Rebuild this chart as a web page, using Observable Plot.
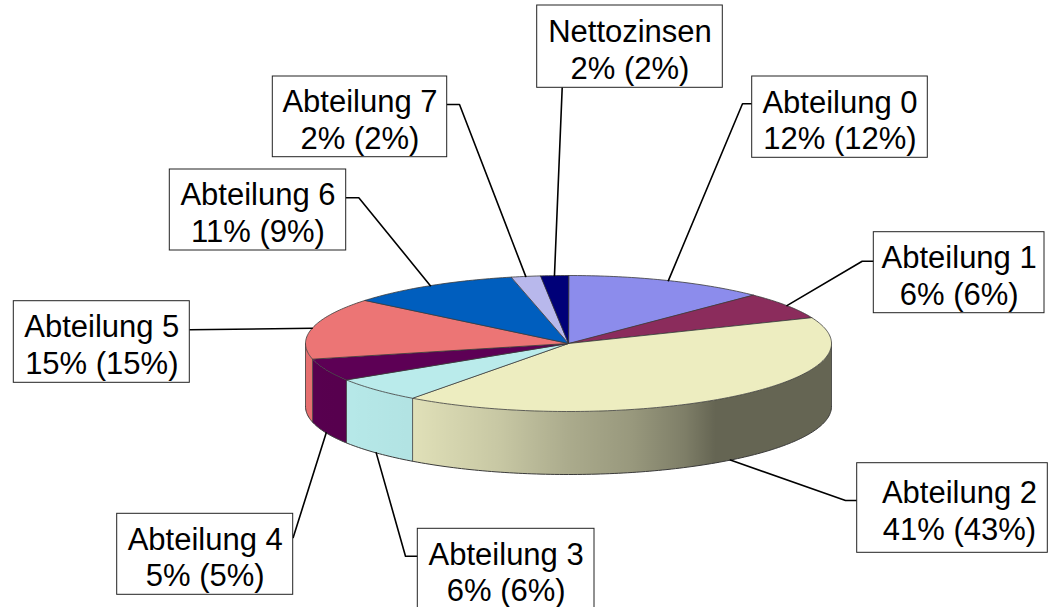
<!DOCTYPE html>
<html><head><meta charset="utf-8">
<script src="https://cdn.jsdelivr.net/npm/d3@7"></script>
<script src="https://cdn.jsdelivr.net/npm/@observablehq/plot@0.6"></script>
<style>html,body{margin:0;padding:0;background:#fff;}</style>
</head><body><div id="chart"></div>
<script>
// ---- data ----
const categories = ["Abteilung 0","Abteilung 1","Abteilung 2","Abteilung 3","Abteilung 4","Abteilung 5","Abteilung 6","Abteilung 7","Nettozinsen"];
const shares = [12.4, 6.4, 41.3, 5.9, 5.3, 14.6, 10.6, 1.8, 1.7];
const shareLabels = ["12%","6%","41%","6%","5%","15%","11%","2%","2%"];
const priorLabels = ["12%","6%","43%","6%","5%","15%","9%","2%","2%"];

// ---- styles ----
const topColors  = ["#8c8cec","#8b2c5c","#ededc0","#baebeb","#5d0055","#ec7575","#005ebe","#b8b8ec","#000078"];
const sideColors = ["#8080dc","#7e2854","#eaeac0","#b9ecec","#58004f","#e66f6f","#0058b4","#aeaee4","#000070"];

// ---- layout (pixels) ----
const CX = 568, CY = 343, RX = 263, RY = 68, DEPTH = 63;
const boxes = [ // x1,y1,x2,y2
  [751.7, 76, 927.3, 157.3],
  [873.3, 231.7, 1044, 312.7],
  [856.7, 462.7, 1047.3, 552.3],
  [417.3, 528.3, 594, 609.5],
  [116.7, 513.3, 292.7, 594.3],
  [13.3, 300.7, 189.3, 382.3],
  [169.3, 169, 345.7, 250],
  [272.3, 76, 446.7, 156.7],
  [536.7, 5, 722.3, 87.3]
];
const textShift = [0, 0, 7, 0, 0, 0, 0, 0, 0];
const attach = [ // box point x,y ; elbow x,y
  [751.7, 103.3, 742, 103.3],
  [873.3, 260.7, 861.7, 260.7],
  [856.7, 500, 845, 500],
  [417.3, 555.7, 405, 555.7],
  [292.7, 537, 292.7, 537],
  [189.3, 329.3, 189.3, 329.3],
  [345.7, 197.3, 358.3, 197.3],
  [446.7, 104, 459, 104],
  [561.7, 87.3, 561.7, 87.3]
];

// ---- geometry ----
const total = d3.sum(shares);
let cum = 0;
const slices = shares.map((v, i) => { const a0 = cum / total * 360; cum += v; return {i, a0, a1: cum / total * 360}; });
const rad = d => d * Math.PI / 180;
const rim = (deg, dz = 0) => [CX + RX * Math.sin(rad(deg)), CY - RY * Math.cos(rad(deg)) + dz];
function arcPts(a0, a1, dz) {
  const n = Math.max(2, Math.ceil(Math.abs(a1 - a0)));
  return d3.range(n + 1).map(k => rim(a0 + (a1 - a0) * k / n, dz));
}

const topPolys = [];
slices.forEach(s => {
  [[CX, CY], ...arcPts(s.a0, s.a1, 0)].forEach(p => topPolys.push({k: s.i, x: p[0], y: p[1], c: topColors[s.i]}));
});
const sidePolys = [];
slices.forEach(s => {
  const a = Math.max(s.a0, 90), b = Math.min(s.a1, 270);
  if (b <= a) return;
  [...arcPts(a, b, 0), ...arcPts(a, b, DEPTH).reverse()].forEach(p => sidePolys.push({k: s.i, x: p[0], y: p[1], c: sideColors[s.i]}));
});
const frontShade = [...arcPts(90, 270, 0), ...arcPts(90, 270, DEPTH).reverse()].map(p => ({x: p[0], y: p[1]}));
const bottomArc = arcPts(90, 270, DEPTH).map(p => ({x: p[0], y: p[1]}));
const sideEdges = [90, 270, ...slices.map(s => s.a0).filter(a => a > 90 && a < 270)].map(a => {
  const p = rim(a, 0), q = rim(a, DEPTH); return {x1: p[0], y1: p[1], x2: q[0], y2: q[1]};
});

const leaders = [];
slices.forEach(s => {
  const mid = (s.a0 + s.a1) / 2;
  const p = rim(mid, Math.cos(rad(mid)) < 0 ? DEPTH : 0);
  const [bx, by, ex, ey] = attach[s.i];
  [[p[0], p[1]], [ex, ey], [bx, by]].forEach(q => leaders.push({k: s.i, x: q[0], y: q[1]}));
});

const labelRows = categories.map((c, i) => ({
  x1: boxes[i][0], y1: boxes[i][1], x2: boxes[i][2], y2: boxes[i][3],
  tx: (boxes[i][0] + boxes[i][2]) / 2 + textShift[i], ty: (boxes[i][1] + boxes[i][3]) / 2 + 2,
  text: `${c}\n${shareLabels[i]} (${priorLabels[i]})`
}));

const chart = Plot.plot({
  width: 1048, height: 607, margin: 0,
  x: {domain: [0, 1048], range: [0, 1048], axis: null},
  y: {domain: [0, 607], range: [0, 607], axis: null},
  color: {type: "identity"},
  style: {fontFamily: "'Liberation Sans', Arial, sans-serif", background: "#fff"},
  marks: [
    Plot.line(sidePolys, {x: "x", y: "y", z: "k", fill: "c", stroke: "none", curve: "linear-closed"}),
    Plot.line(frontShade, {x: "x", y: "y", fill: "url(#sideShade)", stroke: "none", curve: "linear-closed"}),
    Plot.link(sideEdges, {x1: "x1", y1: "y1", x2: "x2", y2: "y2", stroke: "#3a3a3a", strokeWidth: 0.8}),
    Plot.line(bottomArc, {x: "x", y: "y", stroke: "#3a3a3a", strokeWidth: 1}),
    Plot.line(topPolys, {x: "x", y: "y", z: "k", fill: "c", stroke: "#3a3a3a", strokeWidth: 0.8, strokeLinejoin: "round", curve: "linear-closed"}),
    Plot.line(leaders, {x: "x", y: "y", z: "k", stroke: "#000", strokeWidth: 1.6}),
    Plot.rect(labelRows, {x1: "x1", x2: "x2", y1: "y1", y2: "y2", fill: "#fff", stroke: "#222", strokeWidth: 1}),
    Plot.text(labelRows, {x: "tx", y: "ty", text: "text", fontSize: 31, lineHeight: 1.18, fill: "#000"})
  ]
});

// side shading gradient (light from the left)
const grad = [[0, 0], [0.2, 0.04], [0.37, 0.15], [0.5, 0.27], [0.62, 0.35], [0.72, 0.46], [0.78, 0.57], [1, 0.57]];
const defs = d3.select(chart).insert("defs", ":first-child");
const lg = defs.append("linearGradient").attr("id", "sideShade").attr("gradientUnits", "userSpaceOnUse")
  .attr("x1", CX - RX).attr("x2", CX + RX).attr("y1", 0).attr("y2", 0);
grad.forEach(([o, a]) => lg.append("stop").attr("offset", o).attr("stop-color", "#000").attr("stop-opacity", a));

document.getElementById("chart").appendChild(chart);
</script>
</body></html>
